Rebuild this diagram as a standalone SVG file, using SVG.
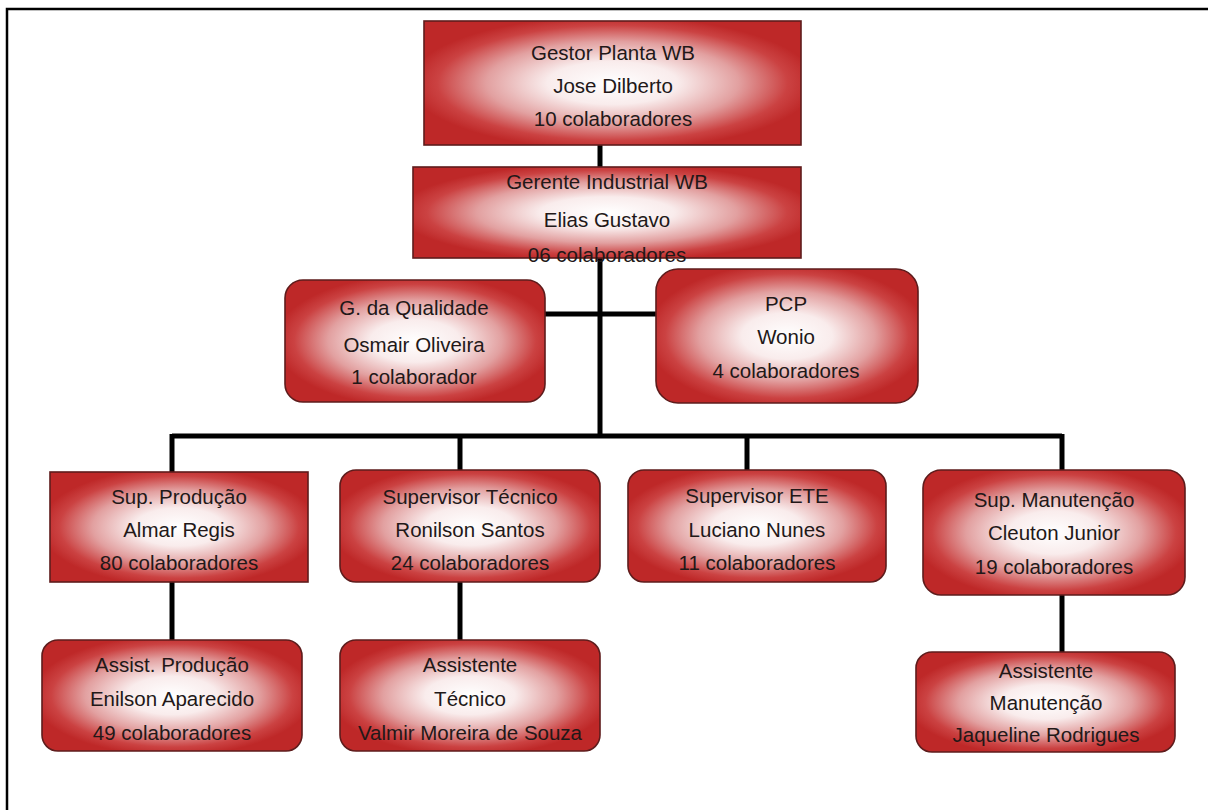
<svg xmlns="http://www.w3.org/2000/svg" width="1208" height="810" viewBox="0 0 1208 810">
<defs>
<radialGradient id="g" cx="50%" cy="50%" r="54%">
<stop offset="0" stop-color="#ffffff"/>
<stop offset="0.32" stop-color="#f9ecec"/>
<stop offset="0.62" stop-color="#e2a0a0"/>
<stop offset="0.86" stop-color="#cb4242"/>
<stop offset="1" stop-color="#be2828"/>
</radialGradient>
<style>
.box{fill:url(#g);stroke:#5e1c1c;stroke-width:1.6}
.t{font-family:"Liberation Sans",Arial,sans-serif;font-size:20.5px;fill:#221818;text-anchor:middle}
.c{stroke:#000;stroke-width:5;fill:none}
</style>
</defs>
<rect width="1208" height="810" fill="#fff"/>
<path d="M7,810 V9 H1208" fill="none" stroke="#000" stroke-width="2.5"/>
<g id="connectors">
<path class="c" d="M600,145 V167"/>
<path class="c" d="M600,258 V436"/>
<path class="c" d="M545,314 H662"/>
<path class="c" d="M172,436 H1062"/>
<path class="c" d="M172,434 V472"/>
<path class="c" d="M460,436 V470"/>
<path class="c" d="M747,436 V470"/>
<path class="c" d="M1062,434 V470"/>
<path class="c" d="M172,582 V640"/>
<path class="c" d="M460,582 V640"/>
<path class="c" d="M1062,595 V652"/>
</g>
<g id="gestor">
<rect class="box" x="424" y="21" width="377" height="124"/>
<text class="t" x="613" y="60">Gestor Planta WB</text>
<text class="t" x="613" y="93">Jose Dilberto</text>
<text class="t" x="613" y="126">10 colaboradores</text>
</g>
<g id="gerente">
<rect class="box" x="413" y="167" width="388" height="91"/>
<text class="t" x="607" y="189">Gerente Industrial WB</text>
<text class="t" x="607" y="227">Elias Gustavo</text>
<text class="t" x="607" y="262">06 colaboradores</text>
</g>
<g id="qualidade">
<rect class="box" x="285" y="280" width="260" height="122" rx="18"/>
<text class="t" x="414" y="315">G. da Qualidade</text>
<text class="t" x="414" y="352">Osmair Oliveira</text>
<text class="t" x="414" y="384">1 colaborador</text>
</g>
<g id="pcp">
<rect class="box" x="656" y="269" width="262" height="134" rx="22"/>
<text class="t" x="786" y="311">PCP</text>
<text class="t" x="786" y="344">Wonio</text>
<text class="t" x="786" y="378">4 colaboradores</text>
</g>
<g id="sup-producao">
<rect class="box" x="50" y="472" width="258" height="110"/>
<text class="t" x="179" y="504">Sup. Produção</text>
<text class="t" x="179" y="537">Almar Regis</text>
<text class="t" x="179" y="570">80 colaboradores</text>
</g>
<g id="sup-tecnico">
<rect class="box" x="340" y="470" width="260" height="112" rx="16"/>
<text class="t" x="470" y="504">Supervisor Técnico</text>
<text class="t" x="470" y="537">Ronilson Santos</text>
<text class="t" x="470" y="570">24 colaboradores</text>
</g>
<g id="sup-ete">
<rect class="box" x="628" y="470" width="258" height="112" rx="16"/>
<text class="t" x="757" y="503">Supervisor ETE</text>
<text class="t" x="757" y="537">Luciano Nunes</text>
<text class="t" x="757" y="570">11 colaboradores</text>
</g>
<g id="sup-manutencao">
<rect class="box" x="923" y="470" width="262" height="125" rx="18"/>
<text class="t" x="1054" y="507">Sup. Manutenção</text>
<text class="t" x="1054" y="540">Cleuton Junior</text>
<text class="t" x="1054" y="574">19 colaboradores</text>
</g>
<g id="assist-producao">
<rect class="box" x="42" y="640" width="260" height="111" rx="16"/>
<text class="t" x="172" y="672">Assist. Produção</text>
<text class="t" x="172" y="706">Enilson Aparecido</text>
<text class="t" x="172" y="740">49 colaboradores</text>
</g>
<g id="assist-tecnico">
<rect class="box" x="340" y="640" width="260" height="111" rx="16"/>
<text class="t" x="470" y="672">Assistente</text>
<text class="t" x="470" y="706">Técnico</text>
<text class="t" x="470" y="740">Valmir Moreira de Souza</text>
</g>
<g id="assist-manutencao">
<rect class="box" x="916" y="652" width="259" height="100" rx="16"/>
<text class="t" x="1046" y="678">Assistente</text>
<text class="t" x="1046" y="710">Manutenção</text>
<text class="t" x="1046" y="742">Jaqueline Rodrigues</text>
</g>
</svg>
